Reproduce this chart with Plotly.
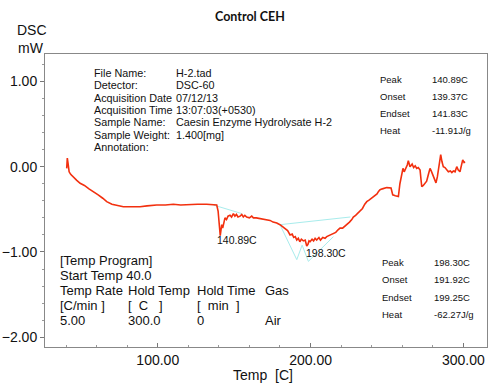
import plotly.graph_objects as go

# ---- data ----
temp = [40.4, 40.8, 41.3, 42.0, 43.0, 45.0, 47.0, 49.2, 52.0, 55.0, 57.9, 61.0, 64.0, 66.6,
        70.0, 74.0, 77.5, 82.0, 88.4, 93.0, 99.3, 105.0, 110.2, 115.0, 121.1, 126.0, 132.0,
        136.0, 138.6, 139.5, 140.3, 140.9, 141.4, 141.9, 142.5, 143.2, 144.0, 145.0, 146.0,
        147.3, 148.3, 149.5, 150.5, 151.5, 152.5, 153.9, 155.0, 156.0, 157.0, 158.2, 160.0,
        161.5, 162.6, 164.5, 167.0, 169.0, 171.3, 173.5, 175.5, 177.9, 180.0, 181.5, 183.3,
        185.0, 186.6, 188.0, 189.0, 190.0, 191.0, 192.0, 193.0, 194.0, 195.3, 196.5, 197.5,
        198.3, 199.0, 199.7, 201.0, 202.0, 203.0, 204.0, 205.5, 206.5, 208.0, 209.5, 210.6,
        212.0, 213.5, 214.9, 216.5, 218.0, 219.3, 221.0, 222.5, 223.7, 225.5, 227.0, 228.0,
        229.5, 230.5, 232.4, 234.0, 235.5, 236.8, 238.5, 240.0, 242.2, 243.5, 244.5, 245.5,
        247.0, 249.9, 252.7, 253.3, 253.8, 255.5, 257.5, 258.5, 259.7, 260.5, 261.3, 262.5,
        263.3, 264.0, 264.6, 265.1, 266.5, 267.5, 268.5, 269.5, 270.5, 271.7, 272.3, 272.8,
        273.8, 274.9, 276.0, 277.0, 278.2, 279.0, 280.0, 281.0, 282.1, 283.0, 283.6, 284.3,
        285.2, 286.0, 286.9, 288.0, 289.0, 290.2, 291.5, 292.5, 293.5, 294.6, 295.7, 296.7,
        297.8, 298.8, 299.6, 300.5, 301.1]
dsc = [-0.02, 0.10, 0.04, -0.06, -0.09, -0.12, -0.16, -0.195, -0.22, -0.26, -0.29, -0.33, -0.37, -0.41,
       -0.44, -0.46, -0.47, -0.47, -0.47, -0.46, -0.45, -0.45, -0.44, -0.45, -0.44, -0.44, -0.44,
       -0.45, -0.45, -0.52, -0.70, -0.81, -0.74, -0.68, -0.72, -0.64, -0.60, -0.62, -0.58,
       -0.57, -0.59, -0.55, -0.58, -0.56, -0.59, -0.58, -0.56, -0.59, -0.57, -0.59, -0.60,
       -0.58, -0.60, -0.60, -0.61, -0.62, -0.625, -0.63, -0.65, -0.66, -0.68, -0.70, -0.72,
       -0.75, -0.80, -0.79, -0.83, -0.82, -0.86, -0.84, -0.88, -0.85, -0.87, -0.86, -0.93,
       -0.91, -0.87, -0.88, -0.85, -0.87, -0.84, -0.86, -0.83, -0.86, -0.83, -0.84, -0.82,
       -0.81, -0.79, -0.78, -0.77, -0.74, -0.72, -0.72, -0.70, -0.68, -0.65, -0.62, -0.59,
       -0.57, -0.55, -0.51, -0.49, -0.44, -0.41, -0.39, -0.37, -0.33, -0.32, -0.29, -0.27,
       -0.26, -0.245, -0.25, -0.30, -0.33, -0.34, -0.35, -0.20, -0.06, -0.02, -0.06, -0.02,
       0.02, 0.07, 0.02, 0.0, 0.03, -0.01, 0.01, -0.02, -0.01, -0.04, -0.15, -0.235,
       -0.22, -0.195, -0.17, -0.10, -0.02, -0.05, -0.10, -0.15, -0.19, -0.12, -0.06, 0.02,
       0.14, 0.06, 0.0, -0.01, -0.04, -0.06, -0.05, -0.07, -0.05, -0.06, 0.0, -0.04,
       -0.06, 0.02, 0.08, 0.05, 0.06]

base1_t = [136.5, 155.0]
base1_y = [-0.45, -0.55]
base2_t = [180.0, 226.0]
base2_y = [-0.68, -0.59]
tang_t = [180.0, 191.0, 194.5, 198.6, 215.0]
tang_y = [-0.68, -1.09, -0.92, -1.11, -0.82]

x_ticks = [100, 200, 300]
y_ticks = [1, 0, -1, -2]

peak_labels = ["140.89C", "198.30C"]
peak1_stats = [("Peak", "140.89C"), ("Onset", "139.37C"), ("Endset", "141.83C"), ("Heat", "-11.91J/g")]
peak2_stats = [("Peak", "198.30C"), ("Onset", "191.92C"), ("Endset", "199.25C"), ("Heat", "-62.27J/g")]
info_rows = [("File Name:", "H-2.tad"), ("Detector:", "DSC-60"), ("Acquisition Date", "07/12/13"),
             ("Acquisition Time", "13:07:03(+0530)"), ("Sample Name:", "Caesin Enzyme Hydrolysate H-2"),
             ("Sample Weight:", "1.400[mg]"), ("Annotation:", "")]
prog_rows = [["[Temp Program]"], ["Start Temp 40.0"],
             ["Temp Rate", "Hold Temp", "Hold Time", "Gas"],
             ["[C/min ]", "[  C   ]", "[  min  ]", ""],
             ["5.00", "300.0", "0", "Air"]]

# ---- figure ----
W, H = 500, 387
L, R, T, B = 45, 13, 54, 40
PW, PH = W - L - R, H - T - B
FONT = "Liberation Sans, Arial, sans-serif"

def px(x):
    return (x - L) / PW

def py(y):
    return (H - B - y) / PH

fig = go.Figure()
for bt, by in [(base1_t, base1_y), (base2_t, base2_y), (tang_t, tang_y)]:
    fig.add_trace(go.Scatter(x=bt, y=by, mode="lines",
                             line=dict(color="#a8ecec", width=1), hoverinfo="skip"))
fig.add_trace(go.Scatter(x=temp, y=dsc, mode="lines",
                         line=dict(color="#f2300f", width=1.6), hoverinfo="skip"))

anns = []

def txt(x, y, s, size=11, xanchor="left", family=FONT, color="#111"):
    anns.append(dict(x=px(x), y=py(y), xref="paper", yref="paper", text=s, showarrow=False,
                     xanchor=xanchor, yanchor="middle",
                     font=dict(size=size, family=family, color=color)))

# title and axis title
txt(250, 16, "<b>Control CEH</b>", size=12.5, xanchor="center", family="Lato, Open Sans, sans-serif")
txt(32, 30, "DSC", size=14, xanchor="center")
txt(31, 48, "mW", size=14, xanchor="center")
txt(263, 375, "Temp  [C]", size=14, xanchor="center")

# info block
for i, (k, v) in enumerate(info_rows):
    yy = 73 + i * 12.3
    txt(92, yy, k, size=10.8)
    if v:
        txt(174, yy, v, size=10.8)

# peak stats blocks
for i, (k, v) in enumerate(peak1_stats):
    yy = 79 + i * 17.3
    txt(378, yy, k, size=9.5)
    txt(430, yy, v, size=9.5)
for i, (k, v) in enumerate(peak2_stats):
    yy = 262 + i * 17.5
    txt(380, yy, k, size=9.5)
    txt(432, yy, v, size=9.5)

# peak labels
txt(237, 240, peak_labels[0], size=10.5, xanchor="center")
txt(326, 253, peak_labels[1], size=10.5, xanchor="center")

# temperature program
col_x = [58, 126, 195, 263]
for i, row in enumerate(prog_rows):
    yy = 260 + i * 15.2
    for j, s in enumerate(row):
        if s:
            txt(col_x[j], yy, s, size=13)

fig.update_layout(
    width=W, height=H, margin=dict(l=L, r=R, t=T, b=B, autoexpand=False),
    paper_bgcolor="white", plot_bgcolor="white", showlegend=False,
    annotations=anns,
    xaxis=dict(range=[26.2, 315.5], tickvals=x_ticks, tickformat=".2f", automargin=False,
               ticks="inside", ticklen=4, tickcolor="#777", showgrid=False, zeroline=False,
               showline=True, linecolor="#888", linewidth=1, mirror=True,
               tickfont=dict(size=14, family=FONT, color="#111"),
               minor=dict(dtick=20, tick0=0, ticks="inside", ticklen=2, tickcolor="#999")),
    yaxis=dict(range=[-2.114, 1.321], tickvals=y_ticks, tickformat=".2f", automargin=False,
               ticks="outside", ticklen=4, tickcolor="#777", showgrid=False, zeroline=False,
               showline=True, linecolor="#888", linewidth=1, mirror=True,
               tickfont=dict(size=14, family=FONT, color="#111"),
               minor=dict(dtick=0.2, tick0=0, ticks="outside", ticklen=2, tickcolor="#999")),
)

fig.write_html("out.html", config={"displayModeBar": False, "staticPlot": True},
               post_script="document.body.style.margin='0';")
